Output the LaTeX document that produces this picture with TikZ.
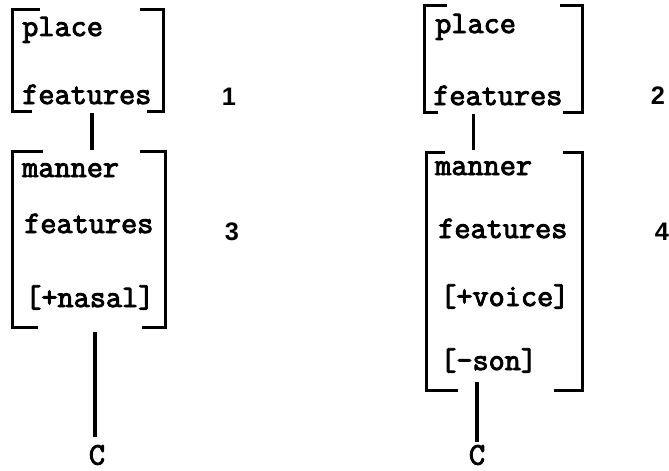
\documentclass[tikz,border=0pt]{standalone}
\usepackage{fontspec}
\usetikzlibrary{calc,fit}
\newfontfamily\featfont{Latin Modern Mono}[FakeBold=3]
\newfontfamily\numfont{Liberation Sans}

\begin{document}
\begin{tikzpicture}[x=0.75pt,y=-0.75pt,
  feat/.style={anchor=base west,inner sep=0pt,font=\featfont\fontsize{23.5}{28}\selectfont},
  seg/.style={inner sep=0pt,font=\featfont\fontsize{23.5}{28}\selectfont},
  num/.style={inner sep=0pt,font=\numfont\bfseries\fontsize{19}{22}\selectfont},
  fbox/.style={inner sep=0pt,draw=none},
  brk/.style={line width=2.4pt,line join=miter},
  stem/.style={line width=2.4pt}]
  \useasboundingbox (0,0) rectangle (669,471);

  % --- left column: feature texts ---
  \node[feat] (place1) at (22,36) {place};
  \node[feat] (feat1) at (22,104) {features};
  \node[feat] (manner3) at (22,177) {manner};
  \node[feat] (feat3) at (24,233) {features};
  \node[feat] (nasal3) at (25,307) {[+nasal]};

  % --- right column: feature texts ---
  \node[feat] (place2) at (435,33) {place};
  \node[feat] (feat2) at (433,105) {features};
  \node[feat] (manner4) at (435,175) {manner};
  \node[feat] (feat4) at (438,238) {features};
  \node[feat] (voice4) at (440,306) {[+voice]};
  \node[feat] (son4) at (440,370) {[-son]};

  % numbers
  \node[num] (num1) at (229,97) {1};
  \node[num] (num3) at (232,232) {3};
  \node[num] (num2) at (658,96) {2};
  \node[num] (num4) at (662,232) {4};

  % segment symbols
  \node[seg] (cL) at (97,455) {C};
  \node[seg] (cR) at (477,455) {C};

  % bracket boxes
  \node[fbox,fit={(13,10) (163,111)}] (box1) {};
  \node[fbox,fit={(13,152) (165,327)}] (box3) {};
  \node[fbox,fit={(425,6) (582,112)}] (box2) {};
  \node[fbox,fit={(427,153) (582,390)}] (box4) {};

  % --- box 1 ---
  \draw[brk] ([shift={(27,0)}]box1.north west) -- (box1.north west) -- (box1.south west) -- ++(19,0);
  \draw[brk] ([shift={(-23,0)}]box1.north east) -- (box1.north east) -- (box1.south east) -- ++(-16,0);

  % --- box 3 ---
  \draw[brk] ([shift={(30,0)}]box3.north west) -- (box3.north west) -- (box3.south west) -- ++(25,0);
  \draw[brk] ([shift={(-25,0)}]box3.north east) -- (box3.north east) -- (box3.south east) -- ++(-23,0);

  % --- box 2 ---
  \draw[brk] ([shift={(22,0)}]box2.north west) -- (box2.north west) -- (box2.south west) -- ++(13,0);
  \draw[brk] ([shift={(-22,0)}]box2.north east) -- (box2.north east) -- (box2.south east) -- ++(-19,0);

  % --- box 4 ---
  \draw[brk] ([shift={(18,0)}]box4.north west) -- (box4.north west) -- (box4.south west) -- ++(31,0);
  \draw[brk] ([shift={(-19,0)}]box4.north east) -- (box4.north east) -- (box4.south east) -- ++(-28,0);

  % connectors
  \draw[stem] ([shift={(4,2)}]box1.south) -- ([shift={(4,-2)}]box3.north -| box1.south);
  \draw[stem] ([shift={(-30,2)}]box2.south) -- ([shift={(-30,-3)}]box4.north -| box2.south);
  \draw[stem] ($(cL.north |- box3.south)+(-2,5)$) -- ($(cL.north)+(-2,-8)$);
  \draw[stem] ($(cR.north |- box4.south)+(0,-8)$) -- ($(cR.north)+(0,-3)$);

\end{tikzpicture}
\end{document}
